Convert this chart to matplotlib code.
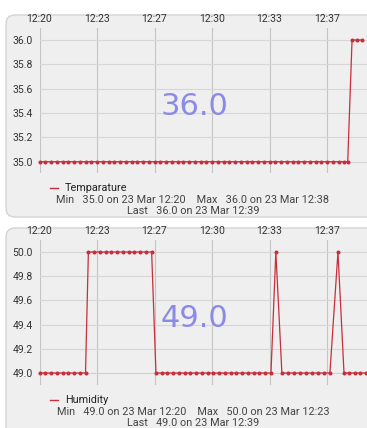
import matplotlib.pyplot as plt
from matplotlib.patches import FancyBboxPatch

# sample times in seconds after 12:20:00
temp_t = [0, 20, 40, 60, 80, 100, 120, 140, 160, 180, 200, 220, 240, 260,
          280, 300, 320, 340, 360, 380, 400, 420, 440, 460, 480, 500, 520,
          540, 560, 580, 600, 620, 640, 660, 680, 700, 720, 740, 760, 780,
          800, 820, 840, 860, 880, 900, 920, 940, 960, 980, 1000, 1020,
          1040, 1060, 1072, 1087, 1104, 1121]
temp_v = [35.0] * 55 + [36.0] * 3

hum_t = [0, 20, 40, 60, 80, 100, 120, 140, 160,
         170, 190, 210, 230, 250, 270, 290, 310, 330, 350, 370, 390,
         405, 425, 445, 465, 485, 505, 525, 545, 565, 585, 605, 625, 645,
         665, 685, 705, 725, 745, 765, 785, 805,
         822,
         843, 864, 885, 906, 927, 948, 969, 990, 1010,
         1038,
         1059, 1078, 1097, 1116, 1135]
hum_v = ([49.0] * 9 + [50.0] * 12 + [49.0] * 21 + [50.0] + [49.0] * 9
         + [50.0] + [49.0] * 5)

tick_t = [0, 200, 400, 600, 800, 1000]
tick_lbl = ["12:20", "12:23", "12:27", "12:30", "12:33", "12:37"]

temp_ticks = [35.0, 35.2, 35.4, 35.6, 35.8, 36.0]
hum_ticks = [49.0, 49.2, 49.4, 49.6, 49.8, 50.0]

W, H = 367, 428
RED = "#c62f3b"
CARD = "#efefef"

fig = plt.figure(figsize=(W / 100, H / 100), dpi=100)
fig.patch.set_facecolor("white")


def card(top, bottom):
    fig.patches.append(FancyBboxPatch((6, H - bottom), 400, bottom - top,
                                      boxstyle="round,pad=0,rounding_size=9",
                                      transform=None, fc=CARD, ec="#d4d4d4",
                                      lw=1.0, zorder=-5))


def panel(top, bottom, ax_top, ax_bot, t, v, ticks, ylim, name, big,
          stats, last, special=False):
    card(top, bottom)
    ax = fig.add_axes([39.5 / W, 1 - ax_bot / H, (W - 39.5) / W,
                       (ax_bot - ax_top) / H])
    ax.set_facecolor("none")
    for s in ax.spines.values():
        s.set_visible(False)
    ax.set_xlim(0, 1139)
    ax.set_ylim(*ylim)
    ax.set_xticks(tick_t)
    ax.set_xticklabels(tick_lbl)
    ax.set_yticks(ticks)
    ax.set_yticklabels([f"{y:.1f}" for y in ticks])
    ax.xaxis.tick_top()
    ax.tick_params(axis="x", length=0, pad=3, labelsize=7.5, labelcolor="#333333")
    ax.tick_params(axis="y", length=0, pad=5, labelsize=7.5, labelcolor="#333333")
    for lbl in ax.get_xticklabels() + ax.get_yticklabels():
        lbl.set_fontfamily("Roboto")
    for x in tick_t:
        c = "#d9bfae" if (special and x == 1000) else "#c4c4c4"
        ax.axvline(x, color=c, lw=0.8, zorder=1)
    for y in ticks:
        c = "#e6c9b8" if (special and y == ticks[0]) else "#d6d6d6"
        ax.axhline(y, color=c, lw=0.8, zorder=1)
    ax.plot(t, v, color=RED, lw=0.9, marker="o", ms=1.9, mec=RED, mfc=RED,
            zorder=3, clip_on=False)
    ax.text(0.472, 0.46, big, transform=ax.transAxes, ha="center",
            va="center", fontsize=22, color="#8b8be6", zorder=4)
    # legend and stats
    ly = 1 - (ax_bot + 15) / H
    fig.lines.append(plt.Line2D([50 / W, 58 / W], [ly, ly], color=RED,
                                lw=1.0, transform=fig.transFigure))
    fig.text(65 / W, ly, name, ha="left", va="center", fontsize=7.8,
             family="Roboto", color="#222222")
    fig.text(193 / W, 1 - (ax_bot + 27) / H, stats, ha="center", va="center",
             fontsize=7.8, family="Roboto", color="#444444")
    fig.text(193 / W, 1 - (ax_bot + 38) / H, last, ha="center", va="center",
             fontsize=7.8, family="Roboto", color="#444444")
    return ax


panel(15, 217, 28, 173, temp_t, temp_v, temp_ticks,
      (35 - 11.3 / 121.7, 36 + 12 / 121.7), "Temparature", "36.0",
      "Min   35.0 on 23 Mar 12:20    Max   36.0 on 23 Mar 12:38",
      "Last   36.0 on 23 Mar 12:39")
panel(228, 440, 240, 385, hum_t, hum_v, hum_ticks,
      (49 - 12 / 121, 50 + 12 / 121), "Humidity", "49.0",
      "Min   49.0 on 23 Mar 12:20    Max   50.0 on 23 Mar 12:23",
      "Last   49.0 on 23 Mar 12:39", special=True)

fig.savefig("out.png", dpi=100)
